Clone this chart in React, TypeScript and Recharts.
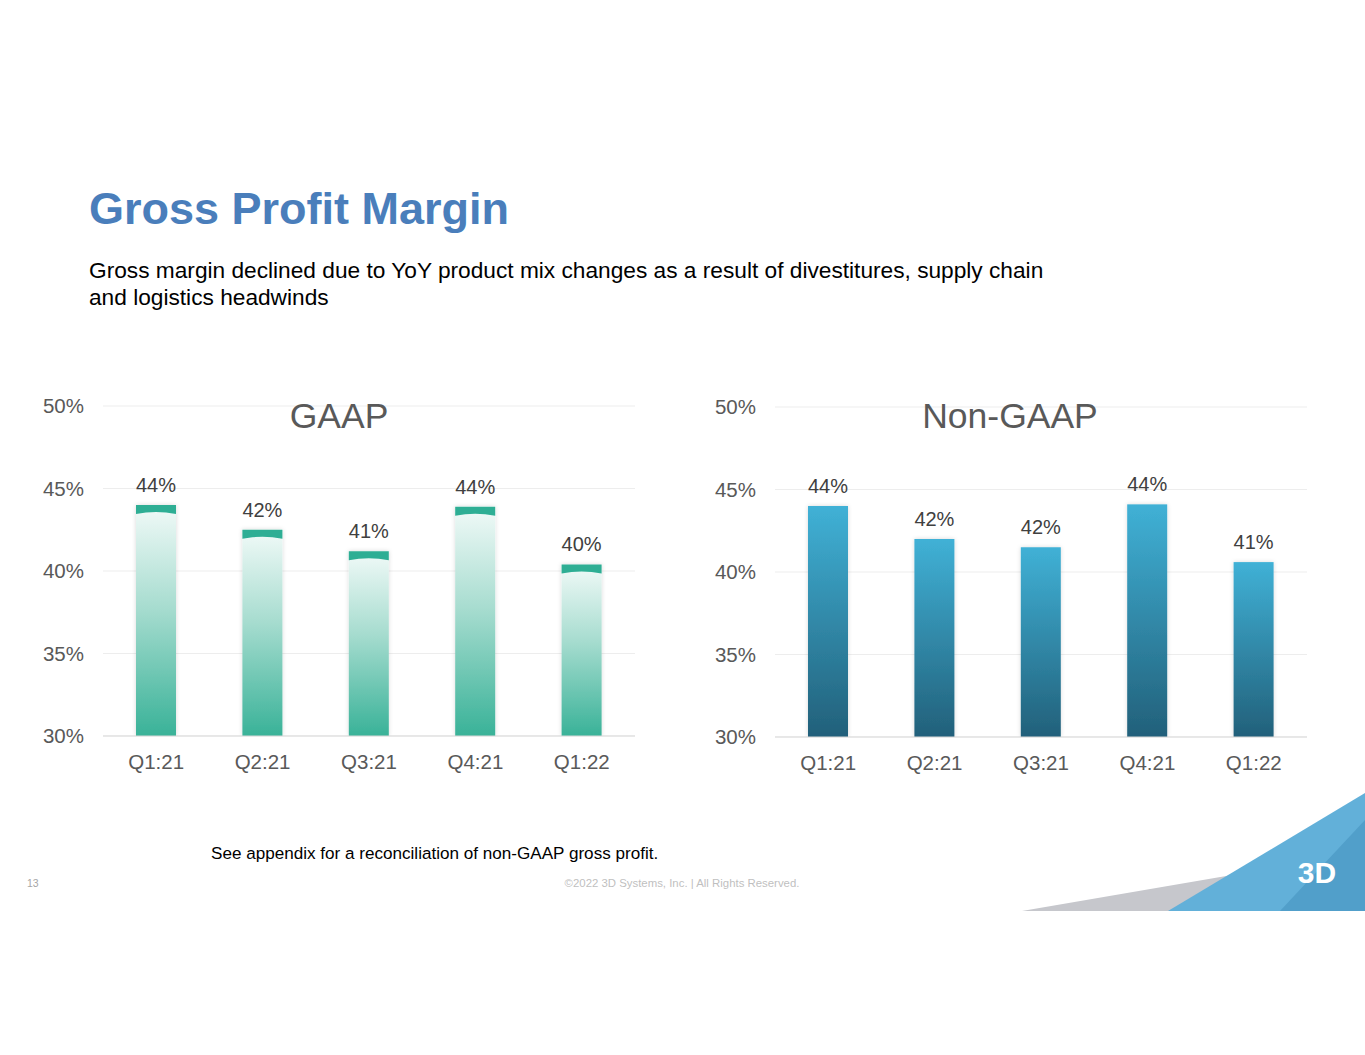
import { BarChart, Bar, XAxis, YAxis, CartesianGrid, LabelList } from "recharts";

const quarters = ["Q1:21", "Q2:21", "Q3:21", "Q4:21", "Q1:22"];
const gaapMargin = [44.0, 42.5, 41.2, 43.9, 40.4];
const gaapLabels = ["44%", "42%", "41%", "44%", "40%"];
const nonGaapMargin = [44.0, 42.0, 41.5, 44.1, 40.6];
const nonGaapLabels = ["44%", "42%", "42%", "44%", "41%"];
const yTicks = [30, 35, 40, 45, 50];

const FONT = "'Liberation Sans', Arial, sans-serif";

const gaapData = quarters.map((q, i) => ({
  quarter: q,
  value: gaapMargin[i],
  label: gaapLabels[i],
}));

const nonGaapData = quarters.map((q, i) => ({
  quarter: q,
  value: nonGaapMargin[i],
  label: nonGaapLabels[i],
}));

const GaapBar = (props: any) => {
  const { x, y, width, height } = props;
  if (!height || height <= 0) return null;
  return (
    <g filter="url(#barShadow)">
      <rect x={x} y={y} width={width} height={height} fill="url(#gaapFill)" />
      <path
        d={`M${x},${y} H${x + width} V${y + 9} Q${x + width / 2},${y + 5} ${x},${y + 9} Z`}
        fill="#2eae94"
      />
    </g>
  );
};

const NonGaapBar = (props: any) => {
  const { x, y, width, height } = props;
  if (!height || height <= 0) return null;
  return (
    <rect
      x={x}
      y={y}
      width={width}
      height={height}
      fill="url(#nonGaapFill)"
      filter="url(#barShadow)"
    />
  );
};

const MarginChart = ({
  data,
  shape,
}: {
  data: { quarter: string; value: number; label: string }[];
  shape: (p: any) => any;
}) => (
  <BarChart
    width={660}
    height={420}
    data={data}
    margin={{ top: 26, right: 25, bottom: 34, left: 0 }}
    style={{ fontFamily: FONT }}
  >
    <defs>
      <linearGradient id="gaapFill" x1="0" y1="0" x2="0" y2="1">
        <stop offset="0%" stopColor="#f1faf8" />
        <stop offset="45%" stopColor="#a6dccf" />
        <stop offset="100%" stopColor="#39b298" />
      </linearGradient>
      <linearGradient id="nonGaapFill" x1="0" y1="0" x2="0" y2="1">
        <stop offset="0%" stopColor="#40b1d6" />
        <stop offset="100%" stopColor="#22607a" />
      </linearGradient>
      <filter id="barShadow" x="-30%" y="-10%" width="160%" height="120%">
        <feDropShadow dx="0" dy="0" stdDeviation="2" floodColor="#000" floodOpacity="0.15" />
      </filter>
    </defs>
    <CartesianGrid vertical={false} stroke="#ededed" />
    <XAxis
      dataKey="quarter"
      axisLine={{ stroke: "#d9d9d9" }}
      tickLine={false}
      tickMargin={12}
      height={30}
      tick={{ fill: "#595959", fontSize: 20.5 }}
    />
    <YAxis
      domain={[30, 50]}
      ticks={yTicks}
      allowDataOverflow
      width={103}
      axisLine={false}
      tickLine={false}
      tickMargin={13}
      tickFormatter={(v: number) => `${v}%`}
      tick={{ fill: "#595959", fontSize: 20.5 }}
    />
    <Bar dataKey="value" barSize={40} shape={shape} isAnimationActive={false}>
      <LabelList dataKey="label" position="top" offset={13} fill="#404040" fontSize={20} />
    </Bar>
  </BarChart>
);

export default function App() {
  return (
    <div
      style={{
        position: "absolute",
        left: 0,
        top: 0,
        width: 1365,
        height: 1055,
        background: "#fff",
        fontFamily: FONT,
        overflow: "hidden",
      }}
    >
      <div
        style={{
          position: "absolute",
          left: 89,
          top: 183,
          fontSize: 45,
          fontWeight: "bold",
          color: "#4a7ebb",
        }}
      >
        Gross Profit Margin
      </div>
      <div
        style={{
          position: "absolute",
          left: 89,
          top: 257,
          fontSize: 22.7,
          lineHeight: "27px",
          color: "#000",
          width: 1100,
        }}
      >
        Gross margin declined due to YoY product mix changes as a result of divestitures, supply chain
        <br />
        and logistics headwinds
      </div>

      <div style={{ position: "absolute", left: 0, top: 380 }}>
        <MarginChart data={gaapData} shape={GaapBar} />
      </div>
      <div style={{ position: "absolute", left: 672, top: 381 }}>
        <MarginChart data={nonGaapData} shape={NonGaapBar} />
      </div>

      <div
        style={{
          position: "absolute",
          left: 229,
          width: 220,
          textAlign: "center",
          top: 396,
          fontSize: 35.5,
          color: "#595959",
        }}
      >
        GAAP
      </div>
      <div
        style={{
          position: "absolute",
          left: 880,
          width: 260,
          textAlign: "center",
          top: 396,
          fontSize: 35.5,
          color: "#595959",
        }}
      >
        Non-GAAP
      </div>

      <div style={{ position: "absolute", left: 211, top: 844, fontSize: 17.1, color: "#000" }}>
        See appendix for a reconciliation of non-GAAP gross profit.
      </div>
      <div style={{ position: "absolute", left: 27, top: 877, fontSize: 10.5, color: "#a6a6a6" }}>
        13
      </div>
      <div
        style={{
          position: "absolute",
          left: 482,
          width: 400,
          textAlign: "center",
          top: 877,
          fontSize: 11.4,
          color: "#bfbfbf",
        }}
      >
        ©2022 3D Systems, Inc. | All Rights Reserved.
      </div>

      <svg
        width={1365}
        height={1055}
        style={{ position: "absolute", left: 0, top: 0, pointerEvents: "none" }}
      >
        <polygon points="1022,911 1232,875 1190,911" fill="#c6c7cc" />
        <polygon points="1168,911 1365,793 1365,911" fill="#62b0d9" />
        <polygon points="1280,911 1365,820 1365,911" fill="#519fca" />
        <text
          x={1317}
          y={883}
          textAnchor="middle"
          fontSize={30}
          fontWeight="bold"
          fill="#fff"
          fontFamily={FONT}
        >
          3D
        </text>
      </svg>
    </div>
  );
}
